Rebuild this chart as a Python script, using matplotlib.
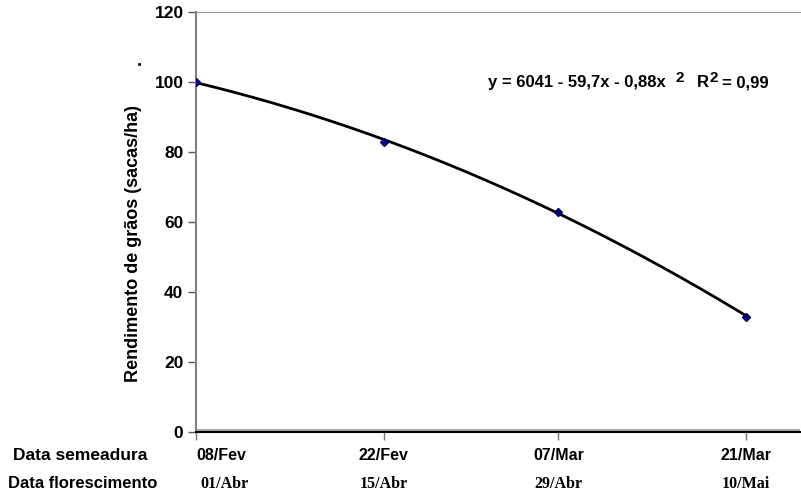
import numpy as np
import matplotlib
matplotlib.use("Agg")
import matplotlib.pyplot as plt
import matplotlib.transforms as mtransforms

# Data
days = [0, 14, 27, 41]
semeadura = ['08/Fev', '22/Fev', '07/Mar', '21/Mar']
florescimento = ['01/Abr', '15/Abr', '29/Abr', '10/Mai']
rendimento = [100, 83, 63, 33]
yticks = [0, 20, 40, 60, 80, 100, 120]

W, H = 801, 496
fig = plt.figure(figsize=(W / 100, H / 100), dpi=100)
ax = fig.add_axes([196 / W, (H - 432) / H, 604 / W, 420 / H])

SANS = 'Liberation Sans'
SERIF = 'Liberation Serif'

# trend line (quadratic fit of the data)
coef = np.polyfit(days, rendimento, 2)
xx = np.linspace(days[0], days[-1], 200)
ax.plot(xx, np.polyval(coef, xx), color='black', lw=2.0, zorder=3)
ax.plot(days, rendimento, linestyle='none', marker='D', ms=4.2,
        color='#000080', markeredgecolor='#000060', zorder=4)

ax.set_xlim(0, 45)
ax.set_ylim(0, 120)

ax.spines['right'].set_visible(False)
ax.spines['top'].set_color('#999999')
ax.spines['left'].set_color('#808080')
ax.spines['left'].set_linewidth(1.5)
ax.spines['bottom'].set_color('black')
ax.spines['bottom'].set_linewidth(1.5)
ax.axhline(0.45, color='#9a9a9a', lw=1.2, zorder=2)

ax.set_yticks(yticks)
ax.set_yticklabels([str(v) for v in yticks], fontfamily=SANS, fontweight='bold',
                   fontsize=12.5)
ax.tick_params(axis='y', direction='out', length=6, width=1, color='#555555', pad=3)
ax.set_xticks(days)
ax.set_xticklabels([])
ax.tick_params(axis='x', direction='out', length=6, width=1, color='#777777')

fig.text(133 / W, 1 - 243 / H, 'Rendimento de grãos (sacas/ha)', rotation=90,
         ha='center', va='center', fontfamily=SANS, fontweight='bold', fontsize=13)
fig.text(136 / W, 1 - 62 / H, '.', rotation=90,
         ha='center', va='center', fontfamily=SANS, fontweight='bold', fontsize=13)

trans = mtransforms.blended_transform_factory(ax.transData, fig.transFigure)
for i, (d, s, f) in enumerate(zip(days, semeadura, florescimento)):
    ha = 'left' if i == 0 else 'center'
    ax.text(d, 1 - 455 / H, s, transform=trans, ha=ha, va='center',
            fontfamily=SANS, fontweight='bold', fontsize=11.5)
    ax.text(d + (0.3 if i == 0 else 0), 1 - 484 / H, f, transform=trans, ha=ha, va='center',
            fontfamily=SERIF, fontweight='bold', fontsize=11.5)

fig.text(147 / W, 1 - 455 / H, 'Data semeadura', ha='right', va='center',
         fontfamily=SANS, fontweight='bold', fontsize=12.5)
fig.text(8 / W, 1 - 484 / H, 'Data florescimento', ha='left', va='center',
         fontfamily=SANS, fontweight='bold', fontsize=12)

# equation
def ft(x, y, s, size):
    fig.text(x / W, 1 - y / H, s, ha='left', va='baseline', fontfamily=SANS,
             fontweight='bold', fontsize=size)

ft(488, 87, 'y = 6041 - 59,7x - 0,88x', 12)
ft(675, 82, '2', 11)
ft(697, 87, 'R', 12)
ft(710, 82, '2', 11)
ft(722, 87, '= 0,99', 12)

fig.savefig('out.png', dpi=100)
